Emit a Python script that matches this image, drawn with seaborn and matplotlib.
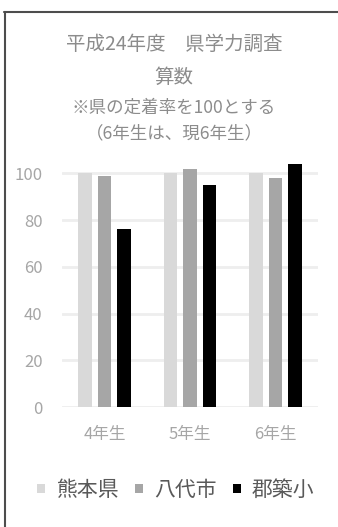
import matplotlib
matplotlib.use("Agg")
import matplotlib.pyplot as plt
import seaborn as sns
import pandas as pd
from matplotlib.patches import Patch
from matplotlib.lines import Line2D

grades = ["4年生", "5年生", "6年生"]
series_names = ["熊本県", "八代市", "郡築小"]
kumamoto = [100, 100, 100]
yatsushiro = [99, 102, 98]
gunchiku = [76, 95, 104]
yticks = [0, 20, 40, 60, 80, 100]
title_lines = ["平成24年度　県学力調査", "算数", "※県の定着率を100とする", "（6年生は、現6年生）"]
colors = ["#d9d9d9", "#a6a6a6", "#000000"]

sns.set_theme(style="white")
plt.rcParams['font.family'] = ['Noto Sans CJK JP', 'DejaVu Sans']

rows = []
for name, vals in zip(series_names, [kumamoto, yatsushiro, gunchiku]):
    for g, v in zip(grades, vals):
        rows.append({"grade": g, "series": name, "value": v})
df = pd.DataFrame(rows)

W, H = 338, 527
fig = plt.figure(figsize=(W / 100, H / 100), dpi=100)
ax = fig.add_axes([62 / W, 1 - 407 / H, (318 - 62) / W, (407 - 159.3) / H])

sns.barplot(data=df, x="grade", y="value", hue="series", order=grades,
            hue_order=series_names, palette=colors, width=0.685, gap=0.3,
            linewidth=0, errorbar=None, ax=ax, legend=False, zorder=3)

ax.set_ylim(0, 106)
ax.set_xlim(-0.5, 2.5)
ax.set_yticks(yticks)
for y in yticks:
    ax.axhline(y, color="#eeeeee", lw=2, zorder=1)
for s in ax.spines.values():
    s.set_visible(False)
ax.set_xlabel("")
ax.set_ylabel("")
ax.tick_params(axis="y", colors="#a6a6a6", labelsize=12, length=0, pad=14)
ax.tick_params(axis="x", colors="#a6a6a6", labelsize=12, length=0, pad=14)
for lab in ax.get_yticklabels() + ax.get_xticklabels():
    lab.set_color("#a6a6a6")

title_y = [44, 77, 108, 133]
title_sz = [14, 14, 12.6, 12.6]
for t, y, sz in zip(title_lines, title_y, title_sz):
    fig.text(174 / W, 1 - y / H, t, ha="center", va="center", fontsize=sz, color="#8c8c8c")

handles = [Patch(facecolor=c, edgecolor="none") for c in colors]
fig.legend(handles, series_names, loc="center", bbox_to_anchor=(176 / W, 1 - 490 / H),
           ncol=3, frameon=False, fontsize=15, handlelength=0.35, handleheight=0.35,
           handletextpad=0.55, columnspacing=0.8, labelcolor="#595959")

fig.add_artist(Line2D([4 / W, 1], [1 - 12 / H, 1 - 12 / H], color="#4d4d4d", lw=1.5,
                      transform=fig.transFigure))
fig.add_artist(Line2D([4.5 / W, 4.5 / W], [0, 1 - 12 / H], color="#4d4d4d", lw=1.5,
                      transform=fig.transFigure))

fig.savefig("out.png", dpi=100)
